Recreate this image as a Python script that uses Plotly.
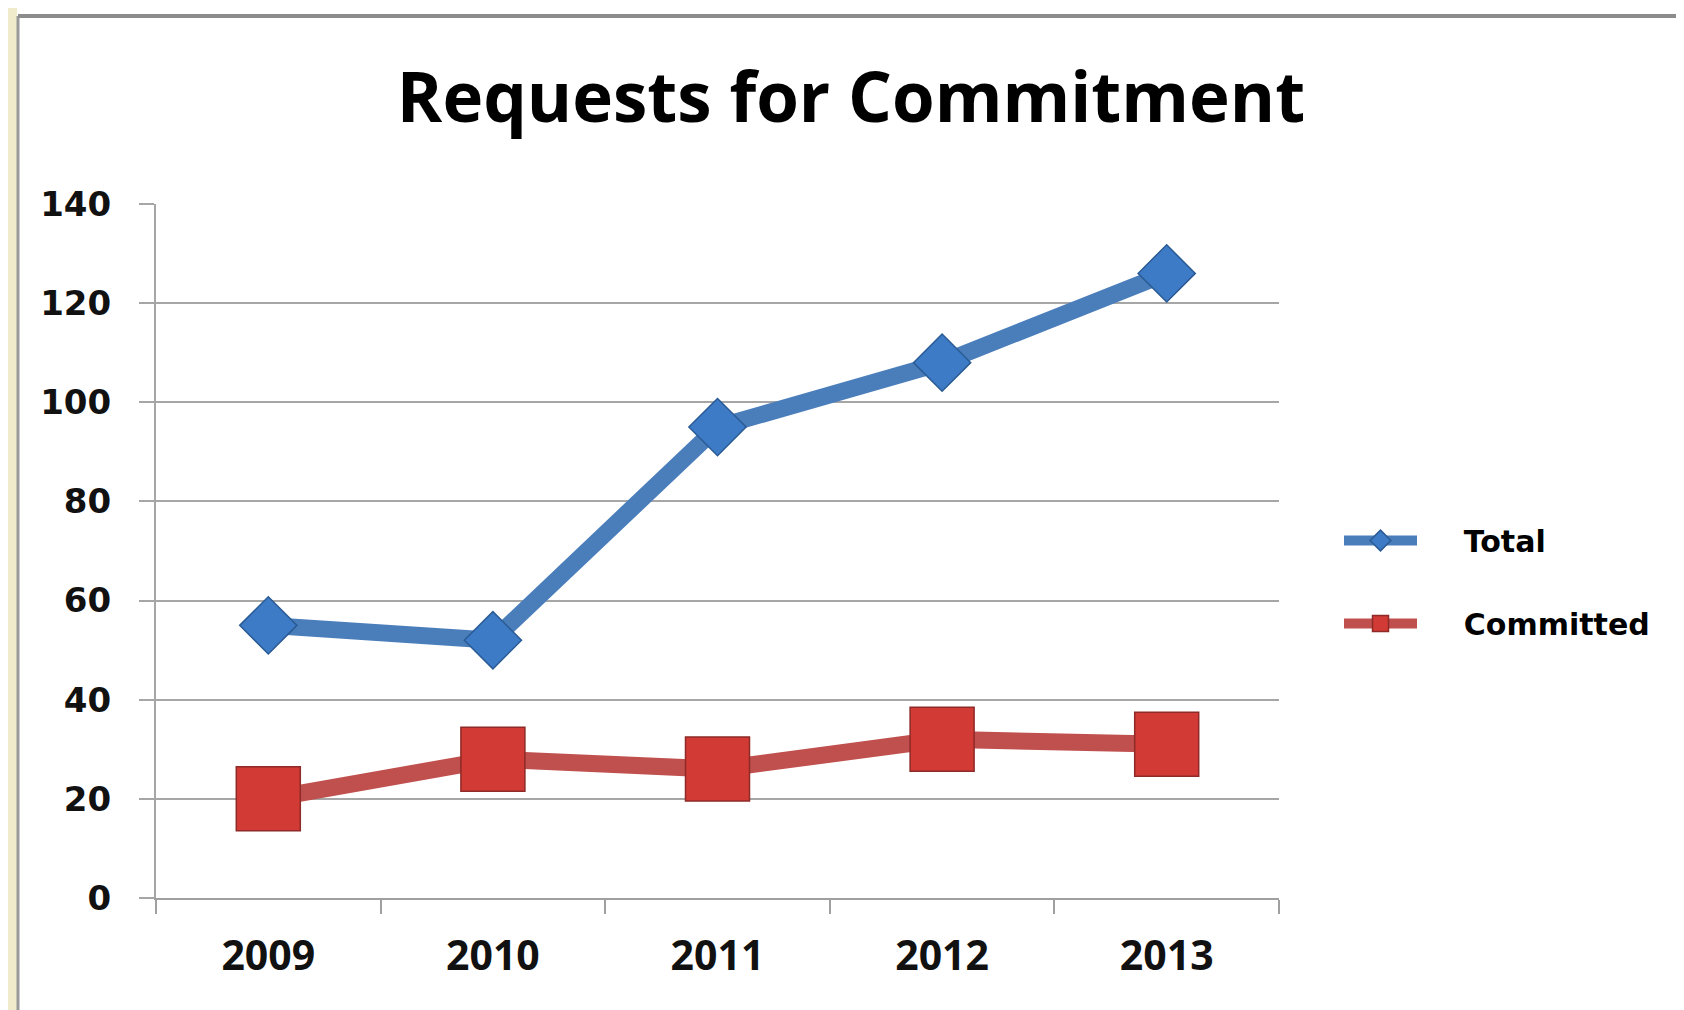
import plotly.graph_objects as go

years = ["2009", "2010", "2011", "2012", "2013"]
total = [55, 52, 95, 108, 126]
committed = [20, 28, 26, 32, 31]
y_ticks = [0, 20, 40, 60, 80, 100, 120, 140]

W, H = 1684, 1010
ML, MR, MT, MB = 148, 413, 196, 120
PW = W - ML - MR
PH = H - MT - MB

def px_x(p):
    return (p - ML) / PW

def px_y(p):
    return 1 - (p - MT) / PH

NB = "\u00a0" * 4

fig = go.Figure()
fig.add_trace(go.Scatter(
    x=years, y=total, name=NB + "Total", mode="lines+markers", legendgroup="a",
    line=dict(color="#4A7EBB", width=17),
    marker=dict(symbol="diamond", size=44, color="#3D7BC6",
                line=dict(color="#2A5B94", width=1.5)),
))
fig.add_trace(go.Scatter(
    x=years, y=committed, name=NB + "Committed", mode="lines+markers", legendgroup="b",
    line=dict(color="#C0504D", width=17),
    marker=dict(symbol="square", size=64, color="#D23A36",
                line=dict(color="#8E2A27", width=1.5)),
))

shapes = [
    dict(type="rect", xref="paper", yref="paper", x0=px_x(0), x1=px_x(9),
         y0=px_y(H), y1=px_y(0), fillcolor="#EFEBCB", line_width=0, layer="below"),
    dict(type="line", xref="paper", yref="paper", x0=px_x(10), x1=px_x(10),
         y0=px_y(H), y1=px_y(8), line=dict(color="#9A9A9A", width=3)),
    dict(type="line", xref="paper", yref="paper", x0=px_x(10), x1=px_x(W),
         y0=px_y(8), y1=px_y(8), line=dict(color="#8C8C8C", width=4)),
    dict(type="line", xref="paper", yref="paper", x0=px_x(W - 1), x1=px_x(W - 1),
         y0=px_y(H), y1=px_y(8), line=dict(color="#D0D0D0", width=2)),
]

fig.update_layout(
    width=W, height=H,
    margin=dict(l=ML, r=MR, t=MT, b=MB),
    paper_bgcolor="white", plot_bgcolor="white",
    title=dict(text="Requests for Commitment", x=843 / W, xanchor="center",
               y=1 - 90 / H, yanchor="middle", yref="container",
               font=dict(family="Open Sans", size=69, color="black", weight="bold")),
    xaxis=dict(type="category", range=[-0.5, 4.5], showgrid=False,
               showline=True, linecolor="#A0A0A0", linewidth=2,
               ticks="outside", tickson="boundaries", ticklen=14, tickcolor="#A0A0A0",
               tickwidth=2, ticklabelstandoff=21,
               tickfont=dict(family="Open Sans", size=41, color="#111111", weight="bold")),
    yaxis=dict(range=[0, 140], tickvals=y_ticks, showgrid=True, gridcolor="#A6A6A6",
               gridwidth=2, showline=True, linecolor="#A6A6A6", linewidth=2,
               ticks="outside", ticklen=15, tickcolor="#A6A6A6", tickwidth=2,
               zeroline=False, ticklabelstandoff=21,
               tickfont=dict(family="DejaVu Sans", size=34, color="#111111", weight="bold")),
    legend=dict(x=px_x(1331), y=px_y(574), xanchor="left", yanchor="middle",
                font=dict(family="DejaVu Sans", size=30, color="black", weight="bold"),
                tracegroupgap=41, itemwidth=73, bgcolor="rgba(0,0,0,0)"),
    shapes=shapes,
)

fig.write_html("out.html")
